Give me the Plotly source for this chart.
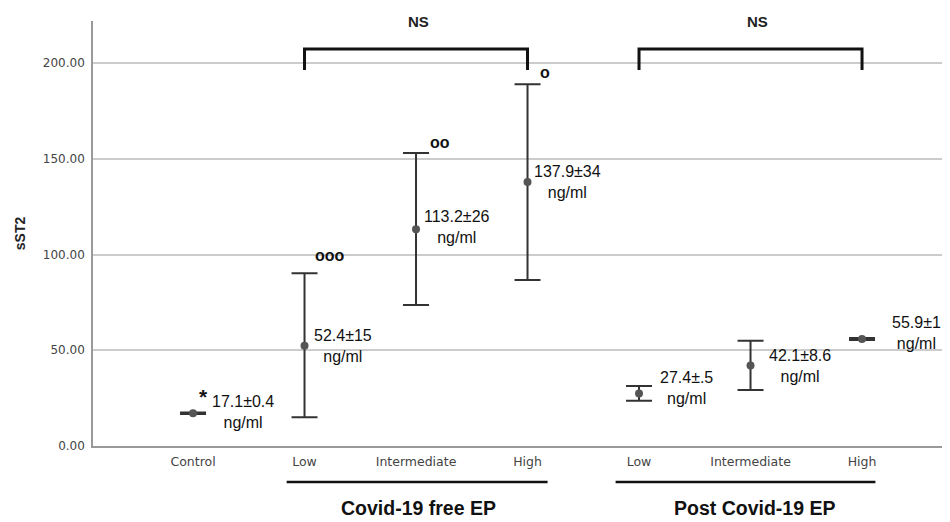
import plotly.graph_objects as go

categories = ["Control", "Low", "Intermediate", "High", "Low", "Intermediate", "High"]
means = [17.1, 52.4, 113.2, 137.9, 27.4, 42.1, 55.9]
upper = [17.5, 90.3, 153.0, 189.0, 31.3, 55.0, 56.4]
lower = [16.7, 15.0, 73.6, 86.7, 23.7, 29.2, 55.4]
labels = ["17.1±0.4", "52.4±15", "113.2±26", "137.9±34", "27.4±.5", "42.1±8.6", "55.9±1"]
y_ticks = [0, 50, 100, 150, 200]
groups = ["Covid-19 free EP", "Post Covid-19 EP"]
sig_marks = ["ooo", "oo", "o"]

x = list(range(len(categories)))
err_plus = [u - m for u, m in zip(upper, means)]
err_minus = [m - l for m, l in zip(means, lower)]

fig = go.Figure()
fig.add_trace(go.Scatter(
    x=x, y=means, mode="markers",
    marker=dict(color="#555555", size=8),
    error_y=dict(type="data", symmetric=False, array=err_plus, arrayminus=err_minus,
                 color="#333333", thickness=2, width=13),
    showlegend=False, hoverinfo="skip",
))

# value labels
label_pos = [(0.45, 18.0), (1.345, 52.2), (2.37, 114.2), (3.36, 137.9),
             (4.43, 30.3), (5.44, 41.8), (6.49, 58.8)]
for (lx, ly), t in zip(label_pos, labels):
    fig.add_annotation(x=lx, y=ly, xref="x", yref="y", text=t + "<br>ng/ml",
                       showarrow=False, font=dict(family="Liberation Sans, Arial", size=16, color="#111111"),
                       align="center")
fig.add_annotation(x=0.09, y=26.0, xref="x", yref="y", text="<b>*</b>", showarrow=False,
                   font=dict(family="Liberation Sans, Arial", size=21, color="#111111"))

# significance circles
for (sx, sy), t in zip([(1.23, 99.3), (2.215, 158.3), (3.157, 194.9)], sig_marks):
    fig.add_annotation(x=sx, y=sy, xref="x", yref="y", text="<b>" + t + "</b>", showarrow=False,
                       font=dict(family="Liberation Sans, Arial", size=16, color="#111111"))

# brackets with NS
for (a, b, nx) in [(1, 3, 2.02), (4, 6, 5.06)]:
    fig.add_shape(type="path", xref="x", yref="y",
                  path=f"M {a},196.4 L {a},207.4 L {b},207.4 L {b},196.4",
                  line=dict(color="#111111", width=3))
    fig.add_annotation(x=nx, y=0.998, xref="x", yref="paper", yanchor="middle",
                       text="<b>NS</b>", showarrow=False,
                       font=dict(family="Liberation Sans, Arial", size=15, color="#222222"))

# group underlines and labels
for (a, b, gx), g in zip([(0.84, 3.18, 2.02), (3.79, 6.12, 5.04)], groups):
    fig.add_shape(type="line", xref="x", yref="paper", x0=a, x1=b, y0=-0.0847, y1=-0.0847,
                  line=dict(color="#111111", width=2.5))
    fig.add_annotation(x=gx, y=-0.1765, xref="x", yref="paper", yanchor="bottom",
                       text="<b>" + g + "</b>", showarrow=False,
                       font=dict(family="Liberation Sans, Arial", size=19.5, color="#111111"))

fig.update_layout(
    width=942, height=514,
    margin=dict(l=85, r=0, t=13, b=76),
    plot_bgcolor="white", paper_bgcolor="white",
    xaxis=dict(range=[-0.897, 6.789], tickmode="array", tickvals=x, ticktext=categories,
               showgrid=False, zeroline=False, showline=True, linecolor="#999999", linewidth=1.5,
               ticks="", ticklabelstandoff=3,
               tickfont=dict(family="DejaVu Sans", size=12.5, color="#444444")),
    yaxis=dict(range=[0, 222], tickmode="array", tickvals=y_ticks,
               ticktext=[f"{v:.2f}" for v in y_ticks],
               showgrid=True, gridcolor="#cccccc", gridwidth=1.5, zeroline=False,
               showline=True, linecolor="#999999", linewidth=1.5, ticks="",
               ticklabelstandoff=4,
               tickfont=dict(family="DejaVu Sans", size=12, color="#444444"),
               title=dict(text="<b>sST2</b>", standoff=14,
                          font=dict(family="Liberation Sans, Arial", size=14, color="#222222"))),
)

fig.write_html("out.html")
